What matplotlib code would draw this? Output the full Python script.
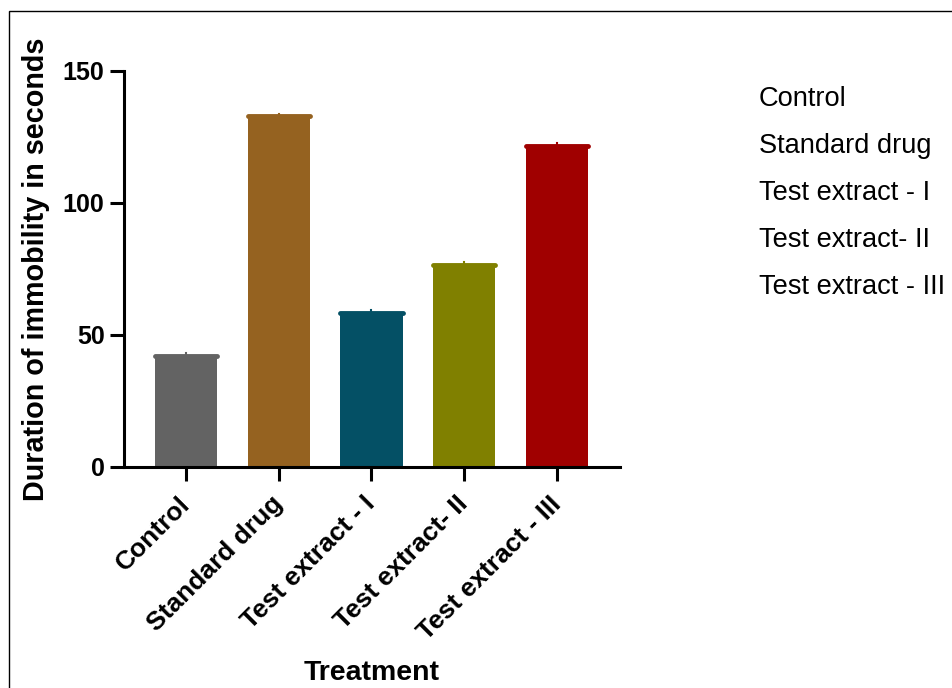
import matplotlib
matplotlib.use("Agg")
import matplotlib.pyplot as plt
from matplotlib.patches import Rectangle

categories = ["Control", "Standard drug", "Test extract - I", "Test extract- II", "Test extract - III"]
values = [42.0, 132.9, 58.5, 76.5, 121.6]
errors = [1.0, 1.0, 1.0, 1.0, 1.0]
colors = ["#636363", "#956220", "#045065", "#808000", "#A00000"]
yticks = [0, 50, 100, 150]

plt.rcParams['font.family'] = ['Liberation Sans', 'DejaVu Sans']

W, H = 952, 688
fig = plt.figure(figsize=(W / 100, H / 100), dpi=100)
ax = fig.add_axes([124 / W, 1 - 467 / H, (620 - 124) / W, (467 - 71) / H])

x = list(range(len(categories)))
bw = 0.67
ax.bar(x, values, width=bw, color=colors, zorder=2)
for xi, v, e, c in zip(x, values, errors, colors):
    ax.plot([xi - bw / 2, xi + bw / 2], [v, v], color=c, lw=3.5,
            solid_capstyle='round', zorder=3)
    ax.plot([xi, xi], [v, v + e], color=c, lw=1.5, zorder=3)

ax.set_xlim(-0.668, 4.68)
ax.set_ylim(0, 150)
ax.set_yticks(yticks)
ax.set_xticks(x)
ax.set_xticklabels(categories, rotation=45, ha='right', va='center',
                   rotation_mode='anchor', fontsize=19, fontweight='bold')
for lab in ax.get_yticklabels():
    lab.set_fontsize(18)
    lab.set_fontweight('bold')

for s in ['top', 'right']:
    ax.spines[s].set_visible(False)
for s in ['left', 'bottom']:
    ax.spines[s].set_linewidth(2.2)
    ax.spines[s].set_capstyle('projecting')
ax.tick_params(axis='both', width=2.2, length=10, direction='out', color='black')
ax.tick_params(axis='y', pad=4)
ax.tick_params(axis='x', pad=14)

ax.set_ylabel("Duration of immobility in seconds", fontsize=20.7, fontweight='bold', labelpad=9)
ax.set_xlabel("Treatment", fontsize=20.5, fontweight='bold')
ax.xaxis.set_label_coords(0.5, -0.488)

# legend-like text labels
for i, cat in enumerate(categories):
    fig.text(759 / W, 1 - (99 + i * 47) / H, cat, fontsize=19.6, va='center', ha='left')

# figure border (top and left visible)
fig.patches.append(Rectangle((9 / W, -0.05), 1.2, 1.05 - 11 / H, transform=fig.transFigure,
                             fill=False, edgecolor='black', lw=1.0, zorder=0))

fig.savefig("out.png", dpi=100)
